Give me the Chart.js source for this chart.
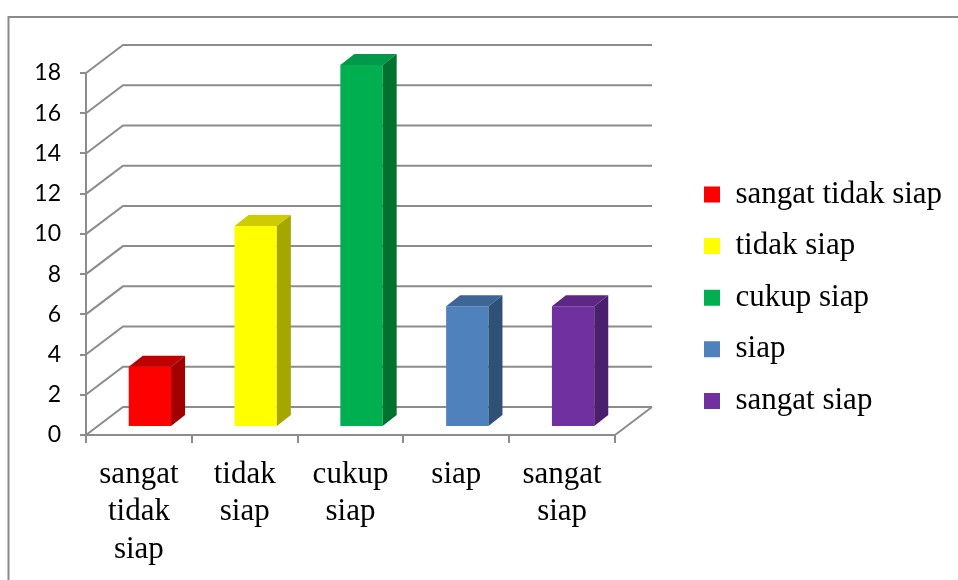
<!DOCTYPE html>
<html>
<head>
<meta charset="utf-8">
<script src="https://cdn.jsdelivr.net/npm/chart.js@4/dist/chart.umd.min.js"></script>
<style>
  html, body { margin: 0; padding: 0; background: #ffffff; }
  canvas { display: block; }
</style>
</head>
<body>
<canvas id="chart" width="958" height="580"></canvas>
<script>
// Category labels (split into lines under the axis) and legend names
const categories = [
  ['sangat', 'tidak', 'siap'],
  ['tidak', 'siap'],
  ['cukup', 'siap'],
  ['siap'],
  ['sangat', 'siap']
];
const legendNames = ['sangat tidak siap', 'tidak siap', 'cukup siap', 'siap', 'sangat siap'];
const counts = [3, 10, 18, 6, 6];

// Value axis range
const yMin = 0;
const yMax = 18;
const yStep = 2;

// Face colours of each column: front, top, side
const frontColors = ['#FF0000', '#FFFF00', '#00B050', '#4F81BD', '#7030A0'];
const topColors   = ['#C00000', '#CCCC00', '#00984A', '#3D6696', '#5C2785'];
const sideColors  = ['#A00000', '#A6A600', '#00722F', '#2F5176', '#4A1F6C'];

const GRID = '#8C8C8C';
const WALL_DX = 37, WALL_DY = -28;   // depth of the floor / back wall
const BAR_DX = 11, BAR_DY = -8;      // how far the columns sit behind the front edge
const COL_DX = 14, COL_DY = -11;     // depth of a column

const serif = '"Liberation Serif", "Times New Roman", serif';

const depthPlugin = {
  id: 'depth3d',
  beforeLayout(chart) {
    const lg = chart.legend;
    if (lg && !lg._fixedFit) {
      const fit = lg.fit;
      lg.fit = function () { fit.call(this); this.width = 343; };
      lg._fixedFit = true;
    }
  },
  afterLayout(chart) {
    const lg = chart.legend;
    if (lg) {
      lg.left = 683.4; lg.right = 958;
      lg.top = 158.4; lg.bottom = 580;
    }
  },
  beforeDraw(chart) {
    const ctx = chart.ctx;
    ctx.save();
    ctx.fillStyle = '#ffffff';
    ctx.fillRect(0, 0, chart.width, chart.height);
    ctx.strokeStyle = '#8A8A8A';
    ctx.lineWidth = 2;
    ctx.beginPath();
    ctx.moveTo(8.5, chart.height);
    ctx.lineTo(8.5, 17);
    ctx.lineTo(chart.width, 17);
    ctx.stroke();
    ctx.restore();
  },
  beforeDatasetsDraw(chart) {
    const ctx = chart.ctx;
    const { left, right, bottom } = chart.chartArea;
    const ys = chart.scales.y;
    ctx.save();
    ctx.strokeStyle = GRID;
    ctx.lineWidth = 2;
    ctx.lineJoin = 'miter';
    ys.ticks.forEach(t => {
      const y = ys.getPixelForValue(t.value);
      ctx.beginPath();
      ctx.moveTo(left, y);
      ctx.lineTo(left + WALL_DX, y + WALL_DY);
      ctx.lineTo(right + WALL_DX, y + WALL_DY);
      ctx.stroke();
    });
    // right edge of the floor
    ctx.beginPath();
    ctx.moveTo(right, bottom);
    ctx.lineTo(right + WALL_DX, bottom + WALL_DY);
    ctx.stroke();
    ctx.restore();
    // columns are drawn set back into the floor
    ctx.save();
    ctx.translate(BAR_DX, BAR_DY);
  },
  afterDatasetsDraw(chart) {
    const ctx = chart.ctx;
    ctx.restore();
    const meta = chart.getDatasetMeta(0);
    meta.data.forEach((bar, i) => {
      const p = bar.getProps(['x', 'y', 'base', 'width'], true);
      const l = p.x - p.width / 2 + BAR_DX;
      const r = p.x + p.width / 2 + BAR_DX;
      const t = p.y + BAR_DY;
      const b = p.base + BAR_DY;
      ctx.save();
      ctx.fillStyle = topColors[i];
      ctx.beginPath();
      ctx.moveTo(l, t);
      ctx.lineTo(l + COL_DX, t + COL_DY);
      ctx.lineTo(r + COL_DX, t + COL_DY);
      ctx.lineTo(r, t);
      ctx.closePath();
      ctx.fill();
      ctx.fillStyle = sideColors[i];
      ctx.beginPath();
      ctx.moveTo(r, t);
      ctx.lineTo(r + COL_DX, t + COL_DY);
      ctx.lineTo(r + COL_DX, b + COL_DY);
      ctx.lineTo(r, b);
      ctx.closePath();
      ctx.fill();
      ctx.restore();
    });
  }
};

new Chart(document.getElementById('chart'), {
  type: 'bar',
  data: {
    labels: categories,
    datasets: [{
      data: counts,
      backgroundColor: frontColors,
      borderWidth: 0,
      categoryPercentage: 1,
      barPercentage: 0.4,
      clip: false
    }]
  },
  options: {
    responsive: false,
    animation: false,
    devicePixelRatio: 1,
    layout: { padding: { left: 0, right: 0, top: 73, bottom: 0 } },
    plugins: {
      tooltip: { enabled: false },
      legend: {
        display: true,
        position: 'right',
        align: 'start',
        labels: {
          boxWidth: 16,
          boxHeight: 16,
          padding: 20.6,
          color: '#000000',
          font: { family: serif, size: 31 },
          generateLabels: () => legendNames.map((name, i) => ({
            text: name,
            fillStyle: frontColors[i],
            strokeStyle: frontColors[i],
            lineWidth: 0,
            hidden: false,
            index: i
          }))
        }
      }
    },
    scales: {
      x: {
        type: 'category',
        offset: true,
        afterFit(scale) { scale.height = 145; },
        grid: {
          offset: true,
          drawOnChartArea: false,
          drawTicks: true,
          tickLength: 8,
          color: GRID,
          lineWidth: 2
        },
        border: { display: true, color: GRID, width: 2 },
        ticks: {
          color: '#000000',
          padding: 12.5,
          maxRotation: 0,
          autoSkip: false,
          font: { family: serif, size: 31, lineHeight: 1.22 }
        }
      },
      y: {
        min: yMin,
        max: yMax,
        afterFit(scale) { scale.width = 86; },
        grid: {
          drawOnChartArea: false,
          drawTicks: true,
          tickLength: 6,
          color: GRID,
          lineWidth: 2
        },
        border: { display: true, color: GRID, width: 2 },
        ticks: {
          stepSize: yStep,
          color: '#000000',
          padding: 19,
          font: { family: 'Lato, "Open Sans", sans-serif', size: 23 }
        }
      }
    }
  },
  plugins: [depthPlugin]
});
</script>
</body>
</html>
